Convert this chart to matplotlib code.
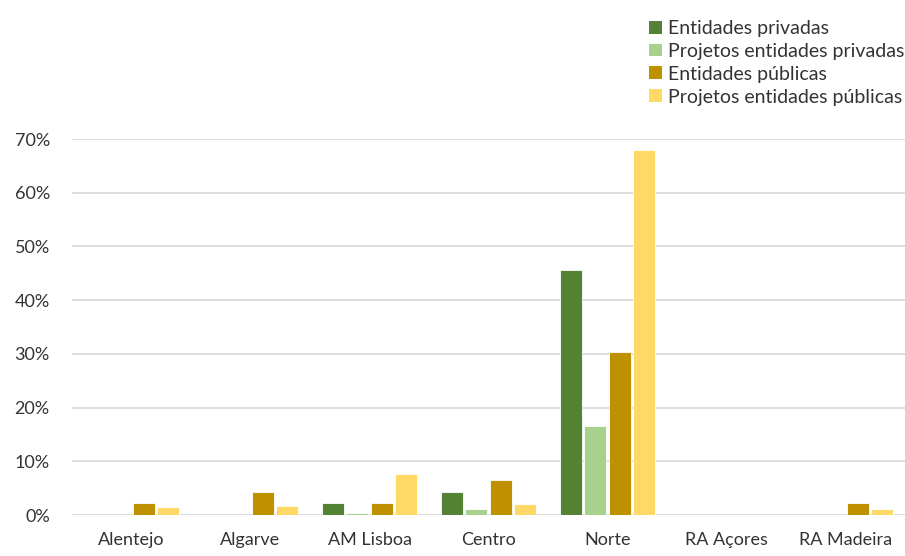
import matplotlib
matplotlib.use("Agg")
import matplotlib.pyplot as plt
import numpy as np
from matplotlib.patches import Patch
from matplotlib.ticker import FuncFormatter

plt.rcParams['font.family'] = ['Lato', 'DejaVu Sans']

categories = ["Alentejo", "Algarve", "AM Lisboa", "Centro", "Norte", "RA Açores", "RA Madeira"]
series_names = ["Entidades privadas", "Projetos entidades privadas",
                "Entidades públicas", "Projetos entidades públicas"]
entidades_privadas = [0.0, 0.0, 2.2, 4.3, 45.6, 0.0, 0.0]
projetos_privadas = [0.0, 0.0, 0.4, 1.1, 16.6, 0.0, 0.0]
entidades_publicas = [2.2, 4.3, 2.2, 6.5, 30.4, 0.0, 2.2]
projetos_publicas = [1.4, 1.7, 7.6, 2.1, 68.0, 0.0, 1.1]
colors = ["#548235", "#A9D18E", "#BF9000", "#FFD966"]

series = [entidades_privadas, projetos_privadas, entidades_publicas, projetos_publicas]

fig = plt.figure(figsize=(9.05, 5.56), dpi=100)
ax = fig.add_axes([72/905, 1-515/556, (905-72)/905, (515-139)/556])

x = np.arange(len(categories))
step = 0.206
width = 0.185
for i, (vals, c) in enumerate(zip(series, colors)):
    ax.bar(x + (i - 1.5) * step, vals, width=width, color=c, edgecolor="white",
           linewidth=0.6, zorder=3)

ax.set_ylim(0, 70)
ax.set_xlim(-0.5, len(categories) - 0.5)
ax.set_yticks(np.arange(0, 71, 10))
ax.yaxis.set_major_formatter(FuncFormatter(lambda v, p: f"{int(v)}%"))
ax.yaxis.grid(True, color="#D9D9D9", linewidth=1.3, zorder=0)
ax.set_axisbelow(True)
ax.set_xticks(x)
ax.set_xticklabels(categories)
for s in ["top", "right", "left", "bottom"]:
    ax.spines[s].set_visible(False)
ax.tick_params(axis="both", length=0, labelsize=13, colors="#333333")
ax.tick_params(axis="y", pad=16)
ax.tick_params(axis="x", pad=12)

handles = [Patch(facecolor=c, edgecolor="none") for c in colors]
fig.legend(handles, series_names, loc="upper left", bbox_to_anchor=(649/905, 1-20/556),
           frameon=False, fontsize=14, handlelength=0.65, handleheight=0.65,
           handletextpad=0.35, labelspacing=0.3, borderpad=0, borderaxespad=0,
           labelcolor="#333333")

fig.savefig("out.png", dpi=100)
